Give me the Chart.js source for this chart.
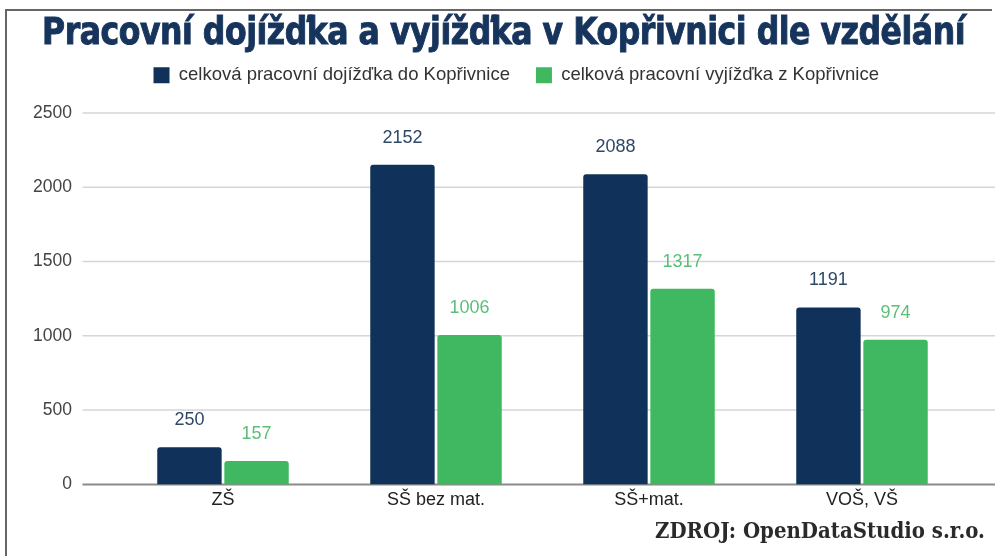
<!DOCTYPE html>
<html>
<head>
<meta charset="utf-8">
<script src="https://cdn.jsdelivr.net/npm/chart.js@4.4.1/dist/chart.umd.min.js"></script>
<style>
body { margin: 0; background: #fff; }
#wrap { position: relative; width: 995px; height: 556px; overflow: hidden; background: #fff; }
#frame { position: absolute; left: 5px; top: 9px; width: 985px; height: 560px; border-top: 2px solid #666; border-left: 2px solid #666; }
#title { position: absolute; left: 42px; top: 13px; margin: 0; font: bold 37px "DejaVu Sans Condensed"; line-height: 1; letter-spacing: -0.5px; color: #16345c; -webkit-text-stroke: 0.9px #16345c; white-space: nowrap; transform-origin: 0 0; }
#source { position: absolute; left: 655px; top: 518px; font: bold 23px "DejaVu Serif"; line-height: 1; color: #2a2a2a; white-space: nowrap; transform-origin: 0 0; }
canvas { position: absolute; left: 0; top: 0; }
</style>
</head>
<body>
<div id="wrap">
  <div id="frame"></div>
  <canvas id="myChart" width="995" height="556"></canvas>
  <h1 id="title">Pracovní dojížďka a vyjížďka v Kopřivnici dle vzdělání</h1>
  <div id="source">ZDROJ: OpenDataStudio s.r.o.</div>
</div>
<script>
var categories = ['ZŠ', 'SŠ bez mat.', 'SŠ+mat.', 'VOŠ, VŠ'];
var dojizdka = [250, 2152, 2088, 1191];
var vyjizdka = [157, 1006, 1317, 974];
var yTicks = [0, 500, 1000, 1500, 2000, 2500];

var navy = '#10325a';
var green = '#40b862';
var font = '"Liberation Sans", Arial, sans-serif';

// squeeze the condensed headline and the source line to their widths
function fitText(el, width) {
	var w = el.getBoundingClientRect().width;
	el.style.transform = 'scaleX(' + (width / w) + ')';
}
fitText(document.getElementById('title'), 923);
fitText(document.getElementById('source'), 330);

// grid lines run further left and right than the plot area
var gridLines = {
	id: 'gridLines',
	beforeDatasetsDraw: function(chart) {
		var ctx = chart.ctx, y = chart.scales.y, area = chart.chartArea;
		ctx.save();
		yTicks.forEach(function(v) {
			var py = y.getPixelForValue(v);
			ctx.beginPath();
			ctx.strokeStyle = v === 0 ? '#8a8a8a' : '#d6d6d6';
			ctx.lineWidth = v === 0 ? 2 : 1.5;
			ctx.moveTo(area.left - 34, py);
			ctx.lineTo(chart.width, py);
			ctx.stroke();
		});
		ctx.restore();
	}
};

var valueLabels = {
	id: 'valueLabels',
	afterDatasetsDraw: function(chart) {
		var ctx = chart.ctx;
		var colors = ['#2e4868', '#5bbf78'];
		ctx.save();
		ctx.font = '18px ' + font;
		ctx.textAlign = 'center';
		ctx.textBaseline = 'middle';
		chart.data.datasets.forEach(function(ds, i) {
			chart.getDatasetMeta(i).data.forEach(function(bar, j) {
				ctx.fillStyle = colors[i];
				ctx.fillText(ds.data[j], bar.x, bar.y - 27);
			});
		});
		ctx.restore();
	}
};

// legend: taller box, and nudged right to sit where the original one does
var legendSpace = {
	id: 'legendSpace',
	beforeInit: function(chart) {
		var fit = chart.legend.fit;
		chart.legend.fit = function() {
			fit.bind(chart.legend)();
			this.height = 73;
		};
	},
	afterLayout: function(chart) {
		chart.legend.left += 17;
		chart.legend.right += 17;
	}
};

var ctx = document.getElementById('myChart');
var myChart = new Chart(ctx, {
	type: 'bar',
	data: {
		labels: categories,
		datasets: [{
			label: 'celková pracovní dojížďka do Kopřivnice',
			data: dojizdka,
			backgroundColor: navy,
			borderRadius: { topLeft: 3, topRight: 3 },
			borderSkipped: 'start',
			categoryPercentage: 0.63,
			barPercentage: 0.96
		}, {
			label: 'celková pracovní vyjížďka z Kopřivnice',
			data: vyjizdka,
			backgroundColor: green,
			borderRadius: { topLeft: 3, topRight: 3 },
			borderSkipped: 'start',
			categoryPercentage: 0.63,
			barPercentage: 0.96
		}]
	},
	options: {
		responsive: false,
		animation: false,
		layout: { padding: { top: 40, left: 30, right: 26.5, bottom: 40 } },
		plugins: {
			tooltip: { enabled: false },
			legend: {
				position: 'top',
				labels: {
					boxWidth: 16,
					boxHeight: 16,
					padding: 26,
					color: '#333',
					font: { family: font, size: 18.5 }
				}
			}
		},
		scales: {
			x: {
				grid: { display: false, drawTicks: false },
				border: { display: false },
				ticks: { color: '#222', padding: 5, font: { family: font, size: 18 } }
			},
			y: {
				min: 0,
				max: 2500,
				afterFit: function(s) { s.width = 86.5; },
				afterBuildTicks: function(s) { s.ticks = yTicks.map(function(v) { return { value: v }; }); },
				grid: { display: false, drawTicks: false },
				border: { display: false },
				ticks: {
					color: '#444',
					padding: 44.5,
					font: { family: font, size: 17.5 },
					callback: function(v) { return String(v); }
				}
			}
		}
	},
	plugins: [gridLines, valueLabels, legendSpace]
});
</script>
</body>
</html>
